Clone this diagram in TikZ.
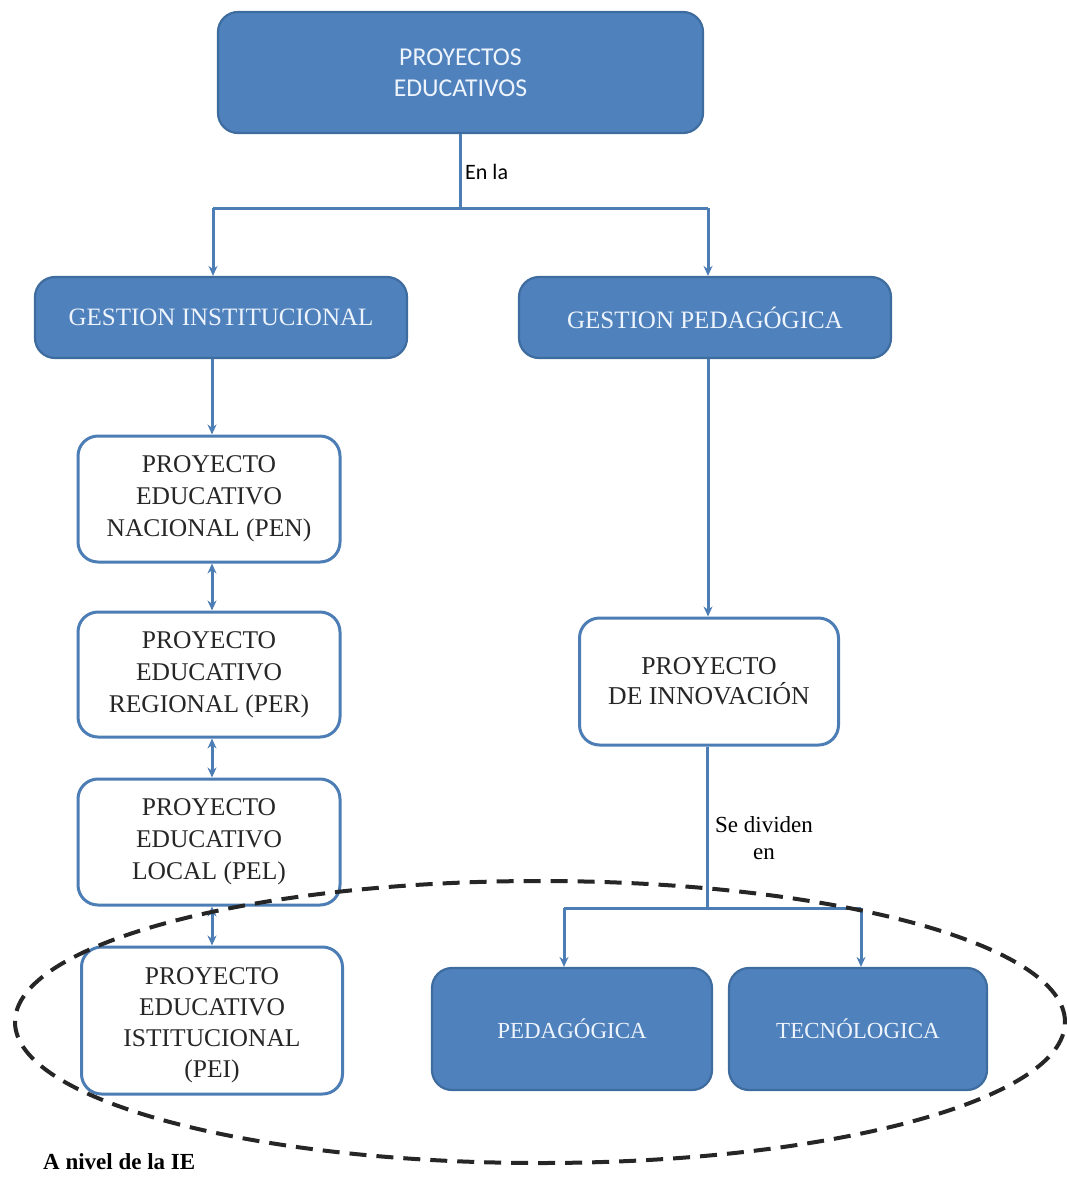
\documentclass[tikz,border=0pt]{standalone}
\usepackage{fontspec}
\setmainfont{Liberation Serif}
\newfontfamily\calfont{Carlito}
\usetikzlibrary{arrows.meta}
\definecolor{boxblue}{HTML}{4F81BD}
\definecolor{boxedge}{HTML}{3F6C9E}
\definecolor{lineblue}{HTML}{4D7DB5}
\definecolor{lighttext}{HTML}{EEF4FC}
\tikzset{
  bluebox/.style={draw=boxedge, line width=2.2pt, fill=boxblue, rounded corners=20pt,
    inner sep=0pt, text=lighttext, align=center, font=\fontsize{23}{30}\selectfont},
  whitebox/.style={draw=lineblue, line width=3pt, fill=white, rounded corners=20pt,
    inner sep=0pt, text=black!85, align=center, font=\fontsize{25.5}{32}\selectfont},
  conn/.style={draw=lineblue, line width=3pt},
  arr/.style={conn, -{Stealth[length=10pt,width=9pt]}},
  darr/.style={conn, {Stealth[length=10pt,width=9pt]}-{Stealth[length=10pt,width=9pt]}},
  lbl/.style={inner sep=0pt, text=black}
}
\begin{document}
\begin{tikzpicture}[x=1pt,y=-1pt]
\useasboundingbox (0,0) rectangle (1066,1178);
% nodes
\node[bluebox, minimum width=485pt, minimum height=121pt, font=\calfont\fontsize{25.7}{31}\selectfont] (top) at (460.5,72.5) {PROYECTOS\\EDUCATIVOS};
\node[bluebox, minimum width=372pt, minimum height=81pt, font=\fontsize{25}{30}\selectfont] (gi) at (221,317.5) {GESTION INSTITUCIONAL};
\node[bluebox, minimum width=372pt, minimum height=81pt, font=\fontsize{25}{30}\selectfont] (gp) at (705,317.5) {GESTION PEDAGÓGICA};
\node[whitebox, minimum width=262pt, minimum height=126pt] (pen) at (209,499) {PROYECTO\\EDUCATIVO\\NACIONAL (PEN)};
\node[whitebox, minimum width=262pt, minimum height=125pt] (per) at (209,674.5) {PROYECTO\\EDUCATIVO\\REGIONAL (PER)};
\node[whitebox, minimum width=262pt, minimum height=126pt] (pel) at (209,842) {PROYECTO\\EDUCATIVO\\LOCAL (PEL)};
\node[whitebox, minimum width=261pt, minimum height=147pt] (pei) at (212,1020.5) {};
\node[lbl, align=center, text=black!85, font=\fontsize{25.5}{31}\selectfont] (peit) at (212,1025) {PROYECTO\\EDUCATIVO\\ISTITUCIONAL\\(PEI)};
\node[whitebox, minimum width=259pt, minimum height=127pt, font=\fontsize{25.7}{30}\selectfont] (inn) at (709,681.5) {PROYECTO\\DE INNOVACIÓN};
\node[bluebox, minimum width=280pt, minimum height=122pt] (ped) at (572,1029) {PEDAGÓGICA};
\node[bluebox, minimum width=258pt, minimum height=122pt] (tec) at (858,1029) {TECNÓLOGICA};
% labels
\node[lbl, anchor=west, font=\calfont\fontsize{22}{24}\selectfont] (enla) at (465,172) {En la};
\node[lbl, align=center, font=\fontsize{23}{27}\selectfont] (sediv) at (764,838) {Se dividen\\en};
\node[lbl, anchor=west, font=\bfseries\fontsize{23}{26}\selectfont] (nivel) at (43,1162) {A nivel de la IE};
% connectors
\coordinate (j1) at (460,208);
\coordinate (j1l) at (213,208);
\coordinate (j1r) at (708,208);
\draw[conn] (top.south -| j1) -- (j1);
\draw[conn] (j1l) -- (j1r);
\draw[arr] (j1l) -- (j1l |- gi.north);
\draw[arr] (j1r) -- (j1r |- gp.north);
\coordinate (cl) at (212,0);
\draw[arr] (cl |- gi.south) -- (cl |- pen.north);
\draw[darr] (cl |- pen.south) -- (cl |- per.north);
\draw[darr] (cl |- per.south) -- (cl |- pel.north);
\draw[darr] (cl |- pel.south) -- (cl |- pei.north);
\coordinate (cr) at (708,0);
\draw[arr] (cr |- gp.south) -- (cr |- inn.north);
\coordinate (j2) at (707,908);
\coordinate (j2l) at (564,908);
\coordinate (j2r) at (861,908);
\draw[conn] (inn.south -| j2) -- (j2);
\draw[conn] (j2l) -- (j2r);
\draw[arr] (j2l) -- (j2l |- ped.north);
\draw[arr] (j2r) -- (j2r |- tec.north);
% dashed ellipse
\draw[line width=4pt, dash pattern=on 17pt off 10pt, black!85] (540,1022) ellipse [x radius=525pt, y radius=141pt];
\end{tikzpicture}
\end{document}
